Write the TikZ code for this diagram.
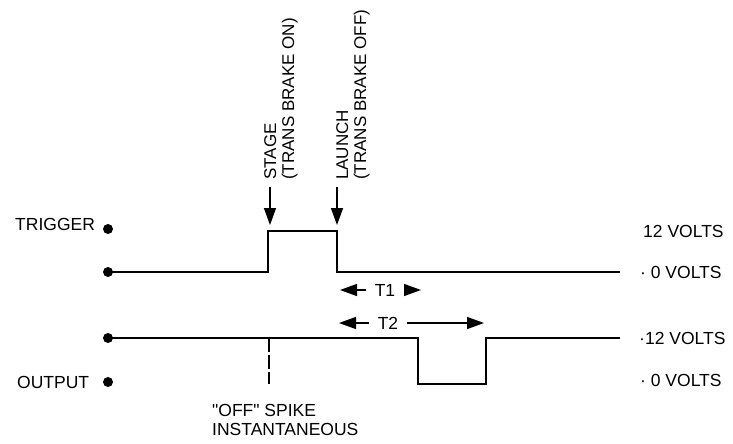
\documentclass[tikz,border=0pt]{standalone}
\usepackage{fontspec}
\setmainfont{Liberation Sans}[Ligatures=TeXOff]
\usetikzlibrary{arrows.meta}
\begin{document}
\begin{tikzpicture}[x=1pt,y=-1pt,
  wave/.style={line width=1.6pt, line join=miter},
  lbl/.style={inner sep=0pt, font=\fontsize{17.5}{19}\selectfont},
  vlbl/.style={inner sep=0pt, font=\fontsize{17}{18}\selectfont, rotate=90, anchor=west, align=left},
  pin/.style={line width=1.4pt, -{Triangle[length=17pt,width=12pt]}},
  tlbl/.style={lbl, inner xsep=8.5pt, inner ysep=0pt},
  spot/.style={circle, fill=black, inner sep=0pt, minimum size=10pt},
  spike/.style={line width=1.4pt, dash pattern=on 14pt off 3pt}]
\useasboundingbox (0,0) rectangle (733,444);

% labels on the left
\node[lbl, anchor=west] (trig) at (15,224) {TRIGGER};
\node[lbl, anchor=west] (outp) at (17,382) {OUTPUT};
\node[spot] (d1) at (108,229) {};
\node[spot] (d2) at (108,272) {};
\node[spot] (d3) at (108,338) {};
\node[spot] (d4) at (108,382) {};

% trigger waveform
\coordinate (a1) at (268,272);
\coordinate (a2) at (268,231);
\coordinate (a3) at (337,231);
\coordinate (a4) at (337,272);
\coordinate (a5) at (620,272);
\draw[wave] (d2.center) -- (a1) -- (a2) -- (a3) -- (a4) -- (a5);

% output waveform
\coordinate (b1) at (418,338);
\coordinate (b2) at (418,384);
\coordinate (b3) at (486,384);
\coordinate (b4) at (486,338);
\coordinate (b5) at (620,338);
\draw[wave] (d3.center) -- (b1) -- (b2) -- (b3) -- (b4) -- (b5);

% spike line
\coordinate (s1) at (269,338);
\coordinate (s2) at (269,384);
\draw[spike] (s1) -- (s2);

% stage / launch
\node[vlbl] (stage) at (281,180) {STAGE\\(TRANS BRAKE ON)};
\node[vlbl] (launch) at (353,180) {LAUNCH\\(TRANS BRAKE OFF)};
\coordinate (sa) at (270,187);
\coordinate (sb) at (270,225);
\coordinate (la) at (337,187);
\coordinate (lb) at (337,225);
\draw[pin] (sa) -- (sb);
\draw[pin] (la) -- (lb);

% T1 / T2
\node[tlbl] (t1) at (385,290) {T1};
\node[tlbl] (t2) at (388,323) {T2};
\coordinate (t1l) at (340,290);
\coordinate (t1r) at (421,290);
\coordinate (t2l) at (339,323);
\coordinate (t2r) at (484,323);
\draw[pin] (t1) -- (t1l);
\draw[pin] (t1) -- (t1r);
\draw[pin] (t2) -- (t2l);
\draw[pin] (t2) -- (t2r);

% right labels
\node[lbl, anchor=west] (v1) at (643,231) {12 VOLTS};
\node[lbl, anchor=west] (v2) at (640,272) {· 0 VOLTS};
\node[lbl, anchor=west] (v3) at (639,338) {·12 VOLTS};
\node[lbl, anchor=west] (v4) at (640,380) {· 0 VOLTS};

% bottom label
\node[lbl, anchor=north west, align=left] (offs) at (212,404) {"OFF" SPIKE\\INSTANTANEOUS};
\end{tikzpicture}
\end{document}
